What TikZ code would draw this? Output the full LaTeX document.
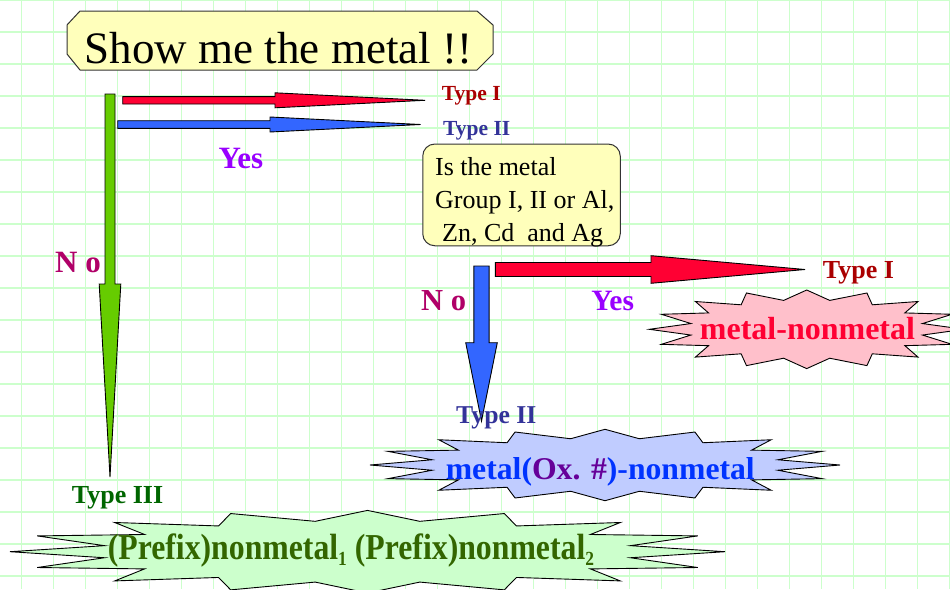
\documentclass[tikz,border=0pt]{standalone}
\usepackage{fontspec}
\setmainfont{Liberation Serif}
\newfontfamily\condserif[FakeStretch=0.87]{Liberation Serif}
\usetikzlibrary{calc}
\definecolor{gridgreen}{HTML}{CCFFCC}
\definecolor{boxyellow}{HTML}{FFFFBB}
\definecolor{arrred}{HTML}{FF0033}
\definecolor{arrblue}{HTML}{3366FF}
\definecolor{arrgreen}{HTML}{66CC00}
\definecolor{lblred}{HTML}{AA0000}
\definecolor{lblblue}{HTML}{333399}
\definecolor{lblgreen}{HTML}{006600}
\definecolor{lblyes}{HTML}{9900FF}
\definecolor{lblno}{HTML}{B00068}
\definecolor{burstpink}{HTML}{FFC0CB}
\definecolor{burstblue}{HTML}{C0CCFF}
\definecolor{burstgreen}{HTML}{CCFFCC}
\definecolor{txtred}{HTML}{FF0033}
\definecolor{txtblue}{HTML}{0033FF}
\definecolor{txtpurple}{HTML}{660099}
\definecolor{txtgreen}{HTML}{336600}
\newcommand\fsz[1]{\fontsize{#1pt}{#1pt}\selectfont}
% fat arrow pointing right: fill, start, tip, shaft half, head half, head length
\newcommand\fatright[6]{%
  \draw[arrline,fill=#1] let \p1=(#2),\p2=(#3) in
    (\x1,\y2+#4pt) -- (\x2-#6pt,\y2+#4pt) -- (\x2-#6pt,\y2+#5pt) -- (\p2)
    -- (\x2-#6pt,\y2-#5pt) -- (\x2-#6pt,\y2-#4pt) -- (\x1,\y2-#4pt) -- cycle;}
% fat arrow pointing down
\newcommand\fatdown[6]{%
  \draw[arrline,fill=#1] let \p1=(#2),\p2=(#3) in
    (\x2-#4pt,\y1) -- (\x2-#4pt,\y2+#6pt) -- (\x2-#5pt,\y2+#6pt) -- (\p2)
    -- (\x2+#5pt,\y2+#6pt) -- (\x2+#4pt,\y2+#6pt) -- (\x2+#4pt,\y1) -- cycle;}
% 16-point burst: cx, cy, rx, ry, fill
\newcommand\burst[5]{%
  \draw[burstline,fill=#5] plot[samples at={0,...,31},variable=\k]
    ({#1+(1-0.25*mod(\k,2))*#3*cos(\k*11.25)},{#2-(1-0.25*mod(\k,2))*#4*sin(\k*11.25)}) -- cycle;}
\begin{document}
\begin{tikzpicture}[x=1pt,y=-1pt,
  gridline/.style={draw=gridgreen,line width=1.2pt},
  arrline/.style={draw=black,line width=0.9pt,line join=miter},
  burstline/.style={draw=black,line width=0.9pt,line join=miter},
  boxline/.style={draw=black!80,line width=1pt},
  lbl/.style={inner sep=0pt,anchor=base west}]
\useasboundingbox (0,0) rectangle (950,589);
\fill[white] (0,0) rectangle (950,589);
\foreach \i in {-1,...,29} \draw[gridline] ({21.7+32*\i},0) -- ({21.7+32*\i},589);
\foreach \j in {0,...,18} \draw[gridline] (0,{32*\j}) -- (950,{32*\j});

% bursts
\burst{806.7}{329.3}{157.4}{39.3}{burstpink}
\burst{605}{465}{235}{35.7}{burstblue}
\burst{367.5}{551.7}{357.5}{41.3}{burstgreen}

% title box
\draw[boxline,fill=boxyellow] (80,11) -- (477,11) -- (493,25) -- (493,54) -- (477,70) -- (80,70) -- (67,54) -- (67,25) -- cycle;
\node[inner sep=0pt,anchor=base,font=\fsz{45}] (title) at (278.5,63.3) {Show me the metal !!};

% question box
\node[boxline,fill=boxyellow,rounded corners=12pt,minimum width=197.5pt,minimum height=101.7pt,inner sep=0pt] (qbox) at (521.5,194.9) {};
\node[inner sep=0pt,anchor=north west,align=left,font=\fontsize{26pt}{33pt}\selectfont] (qtext) at (435,157.3)
  {Is the metal\\Group I, II or Al,\\\hspace*{7pt}Zn, Cd\ \ and Ag};

% labels
\node[lbl,font=\bfseries\fsz{21.5},text=lblred] (t1a) at (441.7,100) {Type I};
\node[lbl,font=\bfseries\fsz{21.5},text=lblblue] (t2a) at (443,135) {Type II};
\node[lbl,font=\bfseries\fsz{31},text=lblyes] (yes1) at (218.3,168.3) {Yes};
\node[lbl,font=\bfseries\fsz{31},text=lblno] (no1) at (55,272.7) {N o};
\node[lbl,font=\bfseries\fsz{26},text=lblgreen] (t3) at (71.7,503.3) {Type III};
\node[lbl,font=\bfseries\fsz{30.5},text=lblno] (no2) at (421,310) {N o};
\node[lbl,font=\bfseries\fsz{29.5},text=lblyes] (yes2) at (591.2,310) {Yes};
\node[lbl,font=\bfseries\fsz{26},text=lblred] (t1b) at (822.7,278.3) {Type I};

% arrows
\coordinate (gstart) at (110,94);
\coordinate (gtip) at (110,477);
\fatdown{arrgreen}{gstart}{gtip}{5}{10.8}{193}
\coordinate (rstart) at (122.7,100.3);
\coordinate (rtip) at (425,100.3);
\fatright{arrred}{rstart}{rtip}{3.7}{7.5}{150}
\coordinate (bstart) at (117.7,124.5);
\coordinate (btip) at (420.7,124.5);
\fatright{arrblue}{bstart}{btip}{3.8}{7.5}{150.7}
\coordinate (r2start) at (495.4,269.5);
\coordinate (r2tip) at (805,269.5);
\fatright{arrred}{r2start}{r2tip}{7}{13.8}{154}
\coordinate (b2start) at (481.5,266);
\coordinate (b2tip) at (481.5,421);
\fatdown{arrblue}{b2start}{b2tip}{7.6}{15.8}{78.3}

\node[lbl,font=\bfseries\fsz{25.7},text=lblblue] (t2b) at (456,423.3) {Type II};

% burst texts
\node[inner sep=0pt,anchor=base,font=\bfseries\fsz{32},text=txtred] (mn) at (807.5,339.3) {metal-nonmetal};
\node[inner sep=0pt,anchor=base,font=\bfseries\fsz{31.7},text=txtblue] (mox) at (600.3,479) {metal(\textcolor{txtpurple}{Ox. \#})-nonmetal};
\node[inner sep=0pt,anchor=base,font=\condserif\bfseries\fsz{36.5},text=txtgreen] (nn) at (350.9,559.3)
  {(Prefix)nonmetal\raisebox{-6pt}{\fsz{20}1} (Prefix)nonmetal\raisebox{-6pt}{\fsz{20}2}};
\end{tikzpicture}
\end{document}
